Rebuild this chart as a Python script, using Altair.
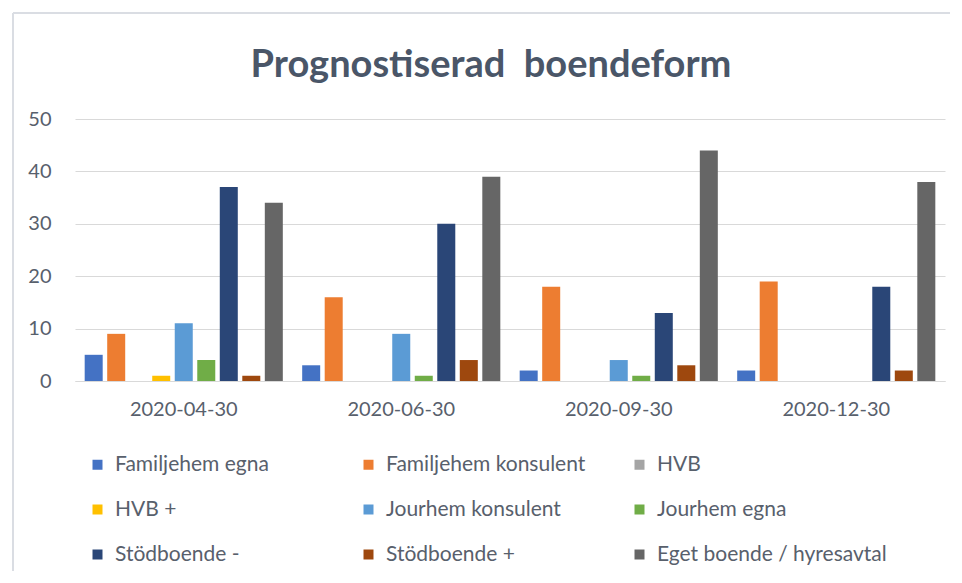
import altair as alt
import pandas as pd

dates = ["2020-04-30", "2020-06-30", "2020-09-30", "2020-12-30"]
series = [
    "Familjehem egna",
    "Familjehem konsulent",
    "HVB",
    "HVB +",
    "Jourhem konsulent",
    "Jourhem egna",
    "Stödboende -",
    "Stödboende +",
    "Eget boende / hyresavtal",
]
familjehem_egna = [5, 3, 2, 2]
familjehem_konsulent = [9, 16, 18, 19]
hvb = [0, 0, 0, 0]
hvb_plus = [1, 0, 0, 0]
jourhem_konsulent = [11, 9, 4, 0]
jourhem_egna = [4, 1, 1, 0]
stodboende_minus = [37, 30, 13, 18]
stodboende_plus = [1, 4, 3, 2]
eget_boende = [34, 39, 44, 38]
colors = ["#4472C4", "#ED7D31", "#A5A5A5", "#FFC000", "#5B9BD5",
          "#70AD47", "#2A4677", "#9E480E", "#666666"]
y_ticks = [0, 10, 20, 30, 40, 50]

all_values = [familjehem_egna, familjehem_konsulent, hvb, hvb_plus,
              jourhem_konsulent, jourhem_egna, stodboende_minus,
              stodboende_plus, eget_boende]
rows = []
for s, vals in zip(series, all_values):
    for d, v in zip(dates, vals):
        rows.append({"datum": d, "serie": s, "antal": v})
df = pd.DataFrame(rows)

LABEL = "#58606C"
FONT = "Lato"

bars = alt.Chart(df).mark_bar().encode(
    x=alt.X("datum:N", sort=dates, title=None,
            scale=alt.Scale(paddingInner=0, paddingOuter=0),
            axis=alt.Axis(labelAngle=0, labelFont=FONT, labelFontSize=20,
                          labelColor=LABEL, labelPadding=18, ticks=False,
                          domainColor="#D9D9D9", grid=False)),
    xOffset=alt.XOffset("serie:N", sort=series,
                        scale=alt.Scale(paddingInner=0.2, paddingOuter=0.43)),
    y=alt.Y("antal:Q", title=None,
            scale=alt.Scale(domain=[0, 50], nice=False),
            axis=alt.Axis(values=y_ticks, labelFont=FONT, labelFontSize=20,
                          labelColor=LABEL, labelPadding=24, ticks=False,
                          domain=False, gridColor="#D9D9D9")),
    color=alt.Color("serie:N", sort=series,
                    scale=alt.Scale(domain=series, range=colors),
                    legend=alt.Legend(
                        title=None, orient="none", legendX=12, legendY=335,
                        columns=3, direction="horizontal", gridAlign="all",
                        columnPadding=13, rowPadding=23,
                        symbolType="square", symbolSize=100,
                        symbolStrokeWidth=0, labelFont=FONT, labelFontSize=21,
                        labelColor=LABEL, labelOffset=7, labelLimit=400,
                        padding=0)),
)

frame_df = pd.DataFrame({"k": [0]})
left_edge = alt.Chart(frame_df).mark_rule(color="#DADDE3", strokeWidth=2).encode(
    x=alt.value(-62), y=alt.value(-106), y2=alt.value(480))
top_edge = alt.Chart(frame_df).mark_rule(color="#DADDE3", strokeWidth=2).encode(
    x=alt.value(-62), x2=alt.value(900), y=alt.value(-106))

chart = alt.layer(left_edge, top_edge, bars).properties(
    width=870,
    height=262,
    padding={"left": 67, "top": 111, "right": 5, "bottom": 190},
    autosize=alt.AutoSizeParams(type="none"),
    title=alt.TitleParams(
        "Prognostiserad\u00a0 boendeform", font=FONT, fontSize=38,
        fontWeight="bold", color="#4A5668", anchor="middle", frame="group",
        dx=-19, offset=-111, baseline="bottom"),
).configure_view(stroke=None)

chart.save("out.html", embed_options={"renderer": "svg", "actions": False})
